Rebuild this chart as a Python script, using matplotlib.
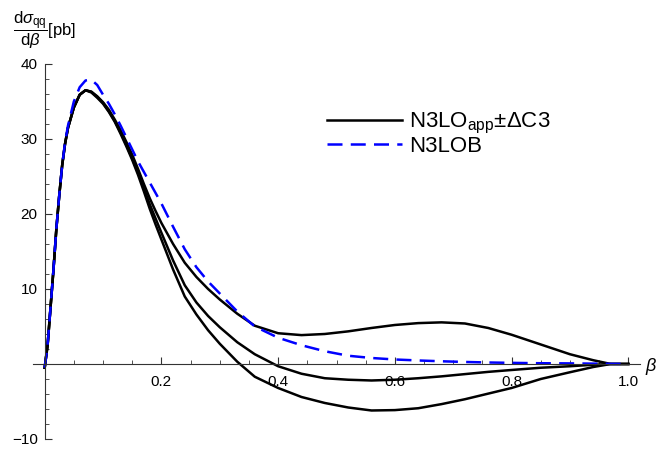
import matplotlib
matplotlib.use("Agg")
import matplotlib.pyplot as plt
from matplotlib.ticker import FixedLocator

plt.rcParams['font.family'] = ['Liberation Sans', 'DejaVu Sans']
plt.rcParams['mathtext.fontset'] = 'custom'
plt.rcParams['mathtext.rm'] = 'Liberation Sans'
plt.rcParams['mathtext.it'] = 'Liberation Sans:italic'

beta = [0, 0.005, 0.01, 0.015, 0.02, 0.025, 0.03, 0.035, 0.04, 0.05, 0.06, 0.07,
        0.08, 0.09, 0.1, 0.11, 0.12, 0.13, 0.14, 0.15, 0.16, 0.17, 0.18, 0.19,
        0.2, 0.22, 0.24, 0.26, 0.28, 0.3, 0.33, 0.36, 0.4, 0.44, 0.48, 0.52,
        0.56, 0.6, 0.64, 0.68, 0.72, 0.76, 0.8, 0.85, 0.9, 0.94, 0.97, 1.0]

n3lo_up = [-0.5, 2.5, 7.5, 12.5, 18.0, 22.5, 26.5, 29.4, 31.5, 34.2, 35.9, 36.5,
           36.3, 35.7, 34.9, 33.9, 32.6, 31.2, 29.6, 27.9, 26.0, 24.0, 22.1, 20.4,
           18.8, 16.0, 13.5, 11.6, 10.0, 8.6, 6.7, 5.1, 4.1, 3.85, 4.0, 4.35,
           4.8, 5.2, 5.45, 5.55, 5.4, 4.8, 3.9, 2.6, 1.3, 0.5, 0.0, 0.0]

n3lo_mid = [-0.5, 2.5, 7.5, 12.5, 18.0, 22.5, 26.5, 29.4, 31.5, 34.2, 35.9, 36.5,
            36.3, 35.6, 34.8, 33.7, 32.4, 30.9, 29.2, 27.4, 25.5, 23.4, 21.3, 19.4,
            17.5, 13.8, 10.5, 8.2, 6.4, 4.9, 2.9, 1.3, -0.3, -1.3, -1.9, -2.1,
            -2.2, -2.1, -1.9, -1.65, -1.35, -1.05, -0.8, -0.5, -0.3, -0.1, 0.0, 0.0]

n3lo_low = [-0.5, 2.5, 7.5, 12.5, 18.0, 22.5, 26.5, 29.4, 31.5, 34.2, 35.9, 36.5,
            36.2, 35.5, 34.7, 33.6, 32.3, 30.7, 29.0, 27.2, 25.2, 23.0, 20.7, 18.6,
            16.6, 12.6, 9.0, 6.6, 4.5, 2.7, 0.3, -1.7, -3.2, -4.4, -5.2, -5.8,
            -6.2, -6.15, -5.9, -5.35, -4.7, -3.95, -3.2, -2.0, -1.1, -0.4, 0.0, 0.0]

n3lob = [-0.5, 2.5, 7.5, 12.5, 18.0, 22.5, 26.5, 29.6, 31.8, 35.0, 36.9, 37.8,
         37.9, 37.2, 35.9, 34.7, 33.3, 31.8, 30.2, 28.6, 27.0, 25.6, 24.2, 22.8,
         21.4, 18.3, 15.3, 12.9, 11.0, 9.4, 7.0, 5.0, 3.5, 2.5, 1.7, 1.1,
         0.8, 0.6, 0.47, 0.36, 0.27, 0.2, 0.15, 0.1, 0.08, 0.05, 0.02, 0.0]

fig = plt.figure(figsize=(6.6, 4.49), dpi=100)
ax = fig.add_axes([0.05, 0.0223, 0.9197, 0.8352])

ax.plot(beta, n3lo_up, color='black', lw=1.8)
ax.plot(beta, n3lo_mid, color='black', lw=1.8, label=r'N3LO$_{\mathregular{app}}$±ΔC3')
ax.plot(beta, n3lo_low, color='black', lw=1.8)
ax.plot(beta, n3lob, color='blue', lw=1.8, dashes=(6, 3.3), label='N3LOB')

ax.set_xlim(-0.02, 1.02)
ax.set_ylim(-10, 40)

for s in ['top', 'right']:
    ax.spines[s].set_visible(False)
ax.spines['left'].set_position(('data', 0))
ax.spines['bottom'].set_position(('data', 0))
ax.spines['left'].set_color('#333333')
ax.spines['bottom'].set_color('#333333')

ax.xaxis.set_major_locator(FixedLocator([0.2, 0.4, 0.6, 0.8, 1.0]))
ax.xaxis.set_minor_locator(FixedLocator([0.05, 0.1, 0.15, 0.25, 0.3, 0.35, 0.45, 0.5, 0.55,
                                         0.65, 0.7, 0.75, 0.85, 0.9, 0.95]))
ax.yaxis.set_major_locator(FixedLocator([-10, 10, 20, 30, 40]))
ax.yaxis.set_minor_locator(FixedLocator([-8, -6, -4, -2, 2, 4, 6, 8, 12, 14, 16, 18,
                                         22, 24, 26, 28, 32, 34, 36, 38]))
ax.set_xticklabels(['0.2', '0.4', '0.6', '0.8', '1.0'])
ax.set_yticklabels(['\u221210', '10', '20', '30', '40'])
ax.tick_params(which='both', direction='in', colors='#333333', labelcolor='black',
               labelsize=11)
ax.tick_params(which='major', length=5, width=0.8)
ax.tick_params(which='minor', length=3, width=0.6)
ax.tick_params(axis='x', pad=8)
ax.tick_params(axis='y', pad=5)

ax.legend(loc='center left', bbox_to_anchor=(0.484, 0.813), frameon=False, fontsize=16,
          handlelength=3.4, handletextpad=0.3, labelspacing=0.0, borderpad=0,
          borderaxespad=0)

fig.text(0.987, 0.183, r'$\beta$', fontsize=13, ha='center', va='center')
fig.text(0.02, 0.978, r'$\dfrac{\mathrm{d}\sigma_{\mathrm{qq}}}{\mathrm{d}\mathit{\beta}}$[pb]',
         fontsize=12, ha='left', va='top')

fig.savefig('out.png', dpi=100)
